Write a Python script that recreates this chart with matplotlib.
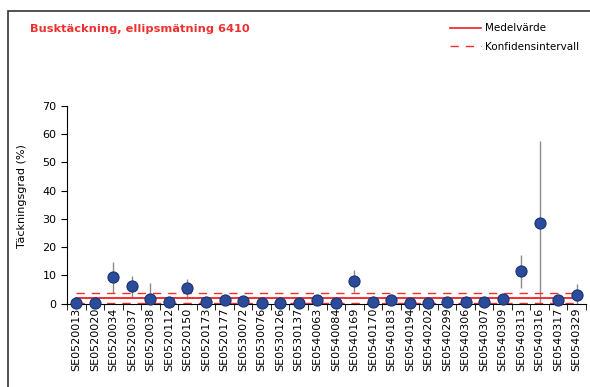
import matplotlib
matplotlib.use("Agg")
import matplotlib.pyplot as plt
from matplotlib.lines import Line2D
from matplotlib.patches import Rectangle
import numpy as np

sites = ['SE0520013', 'SE0520020', 'SE0520034', 'SE0520037', 'SE0520038',
         'SE0520112', 'SE0520150', 'SE0520173', 'SE0520177', 'SE0530072',
         'SE0530076', 'SE0530126', 'SE0530137', 'SE0540063', 'SE0540084',
         'SE0540169', 'SE0540170', 'SE0540183', 'SE0540194', 'SE0540202',
         'SE0540299', 'SE0540306', 'SE0540307', 'SE0540309', 'SE0540313',
         'SE0540316', 'SE0540317', 'SE0540329']
cover = [0.1, 0.1, 9.4, 6.2, 1.6, 0.7, 5.4, 0.6, 1.3, 0.8,
         0.35, 0.3, 0.1, 1.3, 0.2, 7.9, 0.7, 1.3, 0.2, 0.2,
         0.6, 0.7, 0.6, 1.6, 11.5, 28.6, 1.2, 2.9]
ci_low = [0.0, 0.0, 3.7, 2.5, 0.0, 0.2, 1.8, 0.2, 0.4, 0.3,
          0.1, 0.1, 0.0, 0.4, 0.0, 4.2, 0.2, 0.4, 0.0, 0.0,
          0.2, 0.2, 0.2, 0.5, 5.4, 0.0, 0.4, 0.0]
ci_high = [0.3, 0.3, 14.8, 9.8, 7.4, 1.5, 8.7, 1.3, 3.0, 1.6,
           0.8, 0.7, 0.3, 2.5, 0.5, 11.9, 1.5, 2.5, 0.5, 0.5,
           1.3, 1.5, 1.3, 3.0, 17.2, 57.4, 2.3, 7.1]
mean_value = 1.9
conf_low = 0.1
conf_high = 3.7

red = '#f03030'
fig = plt.figure(figsize=(5.9, 3.87), dpi=100)
ax = fig.add_axes([67 / 590, 1 - 303.7 / 387, 519 / 590, 198 / 387])

x = np.arange(len(sites))
y = np.asarray(cover)
yerr = [y - np.asarray(ci_low), np.asarray(ci_high) - y]
ax.errorbar(x, y, yerr=yerr, fmt='none', ecolor='#8c8c8c', elinewidth=1,
            capsize=0, zorder=1)
ax.plot([x[0], x[-1]], [mean_value, mean_value], c=red, lw=1.4, zorder=2)
ax.plot([x[0], x[-1]], [conf_high, conf_high], c=red, lw=1, ls=(0, (6, 5)), zorder=2)
ax.plot([x[0], x[-1]], [conf_low, conf_low], c=red, lw=1, ls=(0, (6, 5)), zorder=2)
ax.plot(x, y, 'o', ms=8, mfc='#2b4b9b', mec='#1d3270', mew=0.8, zorder=3,
        clip_on=False)

ax.set_xlim(-0.5, len(sites) - 0.5)
ax.set_ylim(0, 70)
ax.set_yticks(np.arange(0, 71, 10))
ax.set_xticks(x)
ax.set_xticklabels(sites, rotation=90, fontsize=8)
ax.set_xticks(np.arange(-0.5, len(sites), 1), minor=True)
ax.tick_params(axis='x', which='major', length=0, pad=3)
ax.tick_params(axis='x', which='minor', length=4, direction='out')
ax.tick_params(axis='y', labelsize=8, length=4, direction='out')
ax.set_ylabel('Täckningsgrad (%)', fontsize=8)
ax.yaxis.set_label_coords(-40 / 519, 0.544)
ax.spines['top'].set_visible(False)
ax.spines['right'].set_visible(False)

fig.text(30 / 590, 1 - 29 / 387, 'Busktäckning, ellipsmätning 6410', color=red,
         fontsize=8.2, fontweight='bold', va='center', ha='left')

handles = [Line2D([], [], c=red, lw=1.3),
           Line2D([], [], c=red, lw=1, ls=(0, (6, 5)))]
fig.legend(handles, ['Medelvärde', 'Konfidensintervall'], loc='upper left',
           bbox_to_anchor=(441 / 590, 1 - 14 / 387), frameon=False, fontsize=7.5,
           handlelength=2.9, handletextpad=0.45, labelspacing=0.83)

fig.add_artist(Rectangle((8 / 590, -0.1), 1.0, 1.1 - 11 / 387, transform=fig.transFigure,
                         fill=False, ec='#333333', lw=1.2))

plt.savefig('out.png', dpi=100)
